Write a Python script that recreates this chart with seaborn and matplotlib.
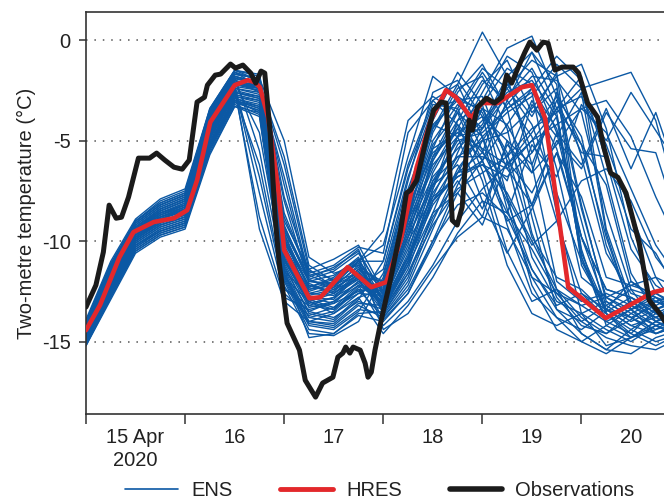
import matplotlib
matplotlib.use("Agg")
import matplotlib.pyplot as plt
import seaborn as sns
import pandas as pd
from matplotlib.lines import Line2D

# ---------------- data (hours since 15 Apr 2020 00 UTC, temperature in degC) -------------
obs_hours = [0.0, 2.4, 4.2, 5.6, 7.3, 8.6, 10.3, 12.7, 15.4, 17.1, 19.1, 21.3, 23.3, 25.0,
             26.9, 28.7, 29.4, 31.3, 32.6, 35.0, 36.2, 38.0, 39.9, 41.1, 42.4, 43.3, 44.6,
             45.8, 46.8, 48.7, 51.7, 53.1, 55.6, 57.3, 59.8, 61.0, 62.2, 62.9, 63.9, 64.7,
             66.4, 67.6, 68.3, 69.1, 70.0, 71.5, 73.7, 76.2, 77.6, 78.6, 80.1, 82.5, 84.2,
             86.0, 87.2, 87.9, 88.7, 89.9, 91.1, 92.1, 92.8, 93.6, 94.8, 97.0, 98.9, 100.7,
             101.9, 103.1, 104.6, 106.3, 107.5, 109.2, 110.7, 111.9, 113.6, 115.3, 118.0,
             119.3, 121.5, 123.9, 125.4, 127.1, 128.8, 130.8, 134.0, 136.4, 138.9, 141.6]
obs_temp = [-13.28, -12.19, -10.55, -8.21, -8.86, -8.81, -7.81, -5.87, -5.87, -5.62, -5.97,
            -6.32, -6.42, -5.97, -3.08, -2.84, -2.24, -1.74, -1.69, -1.19, -1.39, -1.24,
            -1.64, -2.14, -1.54, -1.64, -4.58, -8.81, -11.09, -14.08, -15.42, -16.92,
            -17.76, -17.06, -16.77, -15.77, -15.57, -15.27, -15.57, -15.27, -15.42, -16.07,
            -16.77, -16.52, -15.42, -13.93, -11.94, -9.45, -7.61, -7.46, -6.97, -4.83,
            -3.48, -3.08, -3.13, -5.62, -8.96, -9.20, -8.31, -5.62, -3.98, -4.48, -3.33,
            -2.89, -3.13, -2.84, -1.74, -2.14, -1.39, -0.60, -0.10, -0.50, -0.10, -0.15,
            -1.49, -1.34, -1.34, -1.64, -3.13, -3.83, -5.32, -6.62, -6.82, -7.61, -10.10,
            -12.94, -13.58, -14.43]

hres_hours = [0.0, 3.4, 8.1, 11.5, 16.4, 21.3, 24.5, 26.9, 30.1, 33.6, 36.0, 39.2, 40.9,
              42.1, 44.1, 46.5, 48.0, 54.1, 56.8, 63.4, 69.1, 72.7, 76.2, 80.1, 83.5, 87.2,
              89.6, 93.3, 95.8, 99.7, 105.6, 108.0, 111.2, 116.8, 125.9, 137.4, 141.6]
hres_temp = [-14.43, -13.18, -10.80, -9.55, -9.05, -8.86, -8.46, -6.97, -4.08, -2.99, -2.24,
             -1.99, -2.09, -2.34, -3.83, -7.31, -10.45, -12.84, -12.79, -11.29, -12.29,
             -12.04, -9.95, -6.32, -3.98, -2.49, -2.84, -3.88, -3.13, -3.13, -2.34, -2.24,
             -3.88, -12.29, -13.83, -12.54, -12.34]

# ENS members, 6-hourly: first block 0-66 h, second block 72-144 h
ens_hours = [0, 6, 12, 18, 24, 30, 36, 42, 48, 54, 60, 66,
             72, 78, 84, 90, 96, 102, 108, 114, 120, 126, 132, 138, 144]

ens_first = [
    [-14.0,-11.2,-9.0,-8.0,-7.5,-3.5,-1.6,-2.0,-9.2,-12.0,-12.2,-11.0],
    [-15.1,-12.7,-10.4,-9.6,-9.2,-5.4,-3.1,-3.5,-11.6,-13.8,-14.0,-12.9],
    [-14.6,-11.9,-9.8,-8.9,-8.4,-4.3,-2.2,-2.5,-10.4,-12.5,-12.1,-11.0],
    [-14.3,-11.5,-9.3,-8.4,-7.9,-3.8,-1.8,-5.5,-11.8,-13.0,-12.6,-11.8],
    [-14.8,-12.3,-10.1,-9.3,-8.9,-5.0,-2.9,-3.2,-10.9,-13.2,-13.4,-12.3],
    [-14.5,-11.8,-9.6,-8.7,-8.2,-4.1,-2.1,-2.2,-6.2,-11.4,-12.3,-11.7],
    [-13.9,-11.0,-8.9,-7.9,-7.4,-3.4,-1.5,-1.8,-8.6,-11.6,-11.2,-10.3],
    [-15.2,-12.9,-10.6,-9.8,-9.4,-5.7,-3.3,-3.8,-12.2,-14.6,-14.7,-14.0],
    [-14.4,-11.6,-9.5,-8.6,-8.1,-4.0,-2.0,-2.6,-10.1,-12.2,-12.5,-11.4],
    [-14.7,-12.1,-9.9,-9.1,-8.6,-4.6,-2.5,-8.8,-12.8,-13.4,-13.1,-12.5],
    [-14.2,-11.4,-9.2,-8.3,-7.8,-3.7,-1.7,-1.9,-5.0,-10.8,-11.6,-11.2],
    [-14.9,-12.4,-10.2,-9.4,-9.0,-5.1,-2.9,-3.3,-11.3,-13.5,-13.0,-12.0],
    [-14.5,-11.7,-9.6,-8.8,-8.3,-4.2,-2.2,-2.4,-9.8,-12.8,-12.9,-11.7],
    [-14.1,-11.3,-9.1,-8.2,-7.7,-3.6,-1.6,-2.3,-9.5,-11.9,-11.5,-10.6],
    [-15.0,-12.6,-10.3,-9.5,-9.1,-5.3,-3.0,-3.4,-11.9,-14.2,-14.4,-13.5],
    [-14.6,-12.0,-9.7,-8.9,-8.5,-4.4,-2.3,-6.8,-12.4,-13.2,-12.8,-12.1],
    [-14.3,-11.5,-9.4,-8.5,-8.0,-3.9,-1.9,-2.1,-7.2,-11.9,-12.4,-11.5],
    [-14.8,-12.2,-10.0,-9.2,-8.8,-4.8,-2.7,-3.0,-11.0,-13.0,-13.6,-12.6],
    [-14.4,-11.6,-9.4,-8.6,-8.2,-4.1,-2.0,-2.4,-10.0,-12.3,-11.8,-10.8],
    [-14.7,-12.1,-9.9,-9.0,-8.7,-4.6,-2.6,-2.9,-10.7,-12.9,-13.3,-12.2],
    [-14.0,-11.1,-9.0,-8.1,-7.6,-3.5,-1.5,-2.0,-9.0,-11.4,-10.9,-10.2],
    [-14.9,-12.5,-10.2,-9.4,-9.0,-5.2,-3.0,-3.6,-11.7,-14.0,-14.2,-13.2],
    [-14.5,-11.8,-9.7,-8.8,-8.4,-4.3,-2.3,-7.6,-12.6,-13.7,-13.3,-12.6],
    [-14.2,-11.4,-9.3,-8.4,-7.9,-3.8,-1.8,-2.2,-9.6,-12.4,-12.0,-11.1],
    [-14.6,-11.9,-9.8,-9.0,-8.6,-4.5,-2.4,-2.7,-10.5,-12.6,-12.7,-11.9],
    [-15.1,-12.8,-10.5,-9.7,-9.3,-5.5,-3.2,-3.7,-12.0,-14.4,-14.6,-13.7],
    [-14.3,-11.6,-9.4,-8.6,-8.1,-4.0,-2.0,-2.3,-8.0,-12.1,-12.6,-11.8],
    [-14.7,-12.0,-9.9,-9.1,-8.7,-4.7,-2.6,-2.8,-10.8,-13.1,-12.8,-11.6],
    [-14.4,-11.7,-9.5,-8.7,-8.2,-4.1,-2.1,-4.6,-11.5,-12.7,-12.4,-11.9],
    [-14.8,-12.3,-10.1,-9.3,-8.9,-4.9,-2.8,-3.1,-11.2,-13.6,-13.9,-12.8],
    [-14.1,-11.2,-9.1,-8.2,-7.7,-3.6,-1.7,-1.9,-8.8,-11.7,-11.4,-10.4],
    [-14.5,-11.8,-9.6,-8.8,-8.4,-4.3,-2.3,-2.5,-10.3,-12.4,-12.2,-11.3],
    [-14.9,-12.4,-10.2,-9.5,-9.1,-5.1,-3.0,-3.3,-11.4,-13.8,-13.5,-12.4],
    [-14.3,-11.5,-9.3,-8.5,-8.0,-3.9,-1.9,-2.2,-5.8,-11.2,-12.0,-11.6],
    [-14.6,-12.0,-9.8,-8.9,-8.5,-4.4,-2.4,-2.6,-10.6,-12.8,-13.1,-12.0],
    [-14.2,-11.3,-9.2,-8.3,-7.8,-3.7,-1.8,-2.1,-9.4,-12.0,-11.7,-10.9],
    [-14.7,-12.2,-10.0,-9.2,-8.8,-4.8,-2.7,-6.2,-12.3,-13.5,-13.8,-13.0],
    [-14.4,-11.6,-9.5,-8.7,-8.3,-4.2,-2.1,-2.4,-10.2,-12.6,-12.3,-11.2],
    [-15.0,-12.6,-10.4,-9.6,-9.2,-5.4,-3.1,-3.5,-11.8,-14.1,-14.3,-13.4],
    [-14.5,-11.7,-9.6,-8.8,-8.3,-4.2,-2.2,-2.4,-9.9,-12.2,-12.6,-11.6],
    [-14.1,-11.3,-9.1,-8.2,-7.7,-3.6,-1.6,-2.0,-9.3,-11.8,-11.3,-10.5],
    [-14.8,-12.3,-10.0,-9.2,-8.8,-4.9,-2.8,-3.0,-11.1,-13.3,-13.0,-12.2],
    [-14.4,-11.7,-9.5,-8.6,-8.2,-4.1,-2.1,-2.3,-6.8,-11.7,-12.2,-11.6],
    [-14.6,-11.9,-9.8,-9.0,-8.6,-4.5,-2.5,-2.8,-10.6,-13.0,-13.4,-12.4],
    [-14.2,-11.4,-9.3,-8.4,-7.9,-3.8,-1.8,-2.1,-9.7,-12.3,-11.9,-10.9],
    [-14.9,-12.5,-10.3,-9.5,-9.1,-5.2,-3.0,-3.4,-11.6,-14.0,-14.1,-13.1],
    [-14.5,-11.8,-9.7,-8.9,-8.4,-4.3,-2.3,-9.4,-13.0,-14.0,-13.6,-12.8],
    [-14.3,-11.5,-9.4,-8.5,-8.0,-3.9,-1.9,-2.2,-9.9,-12.0,-12.1,-11.0],
    [-14.7,-12.1,-9.9,-9.1,-8.7,-4.7,-2.6,-2.9,-10.9,-12.9,-12.5,-11.4],
    [-14.0,-11.2,-9.0,-8.1,-7.6,-3.4,-1.5,-1.7,-7.8,-11.5,-11.9,-11.0],
    [-15.2,-12.8,-10.5,-9.7,-9.3,-5.6,-3.3,-3.6,-11.4,-14.8,-14.6,-13.6],
]

ens_second = [
    [-9.5,-4.0,-2.8,-3.6,-6.5,-10.5,-13.0,-12.4,-13.8,-14.6,-13.9,-13.0,-13.4],
    [-11.0,-6.2,-3.0,-2.2,-4.8,-9.2,-12.6,-13.8,-14.4,-13.5,-12.8,-13.6,-14.0],
    [-10.2,-5.8,-1.8,-2.8,-5.5,-8.0,-11.4,-13.2,-12.6,-13.4,-14.2,-13.8,-12.9],
    [-12.0,-7.4,-4.0,-1.6,-3.2,-7.8,-12.2,-14.4,-15.0,-14.2,-13.4,-12.8,-13.2],
    [-11.4,-6.8,-3.4,-3.0,-2.8,-6.0,-10.8,-13.0,-13.6,-15.2,-14.8,-14.0,-13.6],
    [-12.6,-8.8,-4.6,-2.4,-1.8,-4.4,-9.6,-12.8,-14.2,-14.6,-13.6,-13.0,-12.6],
    [-10.6,-4.6,-3.0,-4.2,-7.0,-11.2,-13.6,-14.2,-13.6,-13.0,-13.8,-14.4,-14.0],
    [-11.8,-7.0,-2.6,-2.0,-3.8,-8.4,-11.8,-12.6,-13.2,-12.8,-13.4,-12.6,-12.2],
    [-12.8,-9.4,-5.4,-2.6,-1.2,-3.4,-2.6,-8.6,-13.6,-14.4,-15.0,-14.2,-13.8],
    [-12.2,-8.0,-4.4,-2.2,0.4,-1.8,-6.2,-12.0,-13.0,-12.6,-13.2,-14.0,-14.6],
    [-13.0,-10.2,-6.0,-3.6,-1.6,-3.4,-8.8,-13.4,-14.0,-13.2,-12.4,-12.8,-13.5],
    [-12.4,-8.6,-5.0,-3.2,-4.4,-2.0,-5.6,-3.8,-10.8,-14.0,-14.6,-13.4,-12.8],
    [-13.4,-11.2,-7.4,-4.0,-2.0,-3.0,-4.8,-9.0,-12.6,-13.8,-13.0,-13.8,-14.4],
    [-12.6,-9.0,-4.2,-3.0,-3.4,-5.6,-9.8,-11.8,-12.4,-13.6,-14.4,-15.0,-14.6],
    [-11.6,-7.6,-4.2,-4.8,-8.0,-10.6,-8.4,-5.6,-7.8,-11.8,-12.2,-11.8,-12.4],
    [-13.2,-10.6,-6.6,-4.4,-2.2,-1.0,-3.6,-2.4,-8.2,-13.0,-13.8,-13.2,-12.6],
    [-12.9,-9.8,-5.8,-3.4,-1.4,-2.4,-4.2,-7.6,-11.0,-13.4,-14.2,-14.6,-14.0],
    [-12.0,-8.2,-5.6,-4.6,-3.8,-5.0,-8.2,-12.4,-14.6,-15.4,-14.4,-13.6,-13.8],
    [-13.6,-11.8,-8.6,-5.6,-3.0,-0.8,-1.6,-4.6,-9.8,-13.2,-14.0,-13.4,-13.0],
    [-13.0,-10.4,-7.2,-4.8,-2.6,-0.4,0.2,-2.8,-8.4,-12.8,-13.6,-14.2,-14.8],
    [-12.5,-9.2,-6.4,-4.2,-5.6,-2.2,-3.8,-1.6,-10.6,-13.4,-13.8,-14.6,-14.2],
    [-13.8,-12.2,-9.4,-6.6,-4.4,-2.4,-1.0,-1.8,-5.8,-10.6,-12.6,-13.0,-13.6],
    [-12.7,-9.6,-6.0,-4.0,-3.2,-1.4,-2.2,-6.4,-11.8,-12.8,-12.2,-12.6,-13.2],
    [-13.3,-11.0,-7.8,-5.2,-4.0,-2.6,-2.0,-3.8,-10.8,-13.6,-14.6,-15.2,-14.6],
    [-12.3,-8.8,-5.8,-4.4,-6.0,-3.0,-0.6,-3.4,-1.8,-9.4,-13.0,-13.8,-13.4],
    [-14.0,-12.6,-10.0,-7.2,-5.0,-3.2,-1.8,-2.0,-3.6,-8.6,-12.4,-14.0,-14.4],
    [-13.1,-10.8,-7.0,-5.0,-4.6,-3.4,-2.4,-4.4,-9.0,-13.6,-14.8,-14.0,-13.2],
    [-12.8,-9.4,-6.8,-5.4,-4.2,-1.8,-0.6,-2.2,-11.2,-13.4,-12.0,-12.8,-13.8],
    [-13.5,-11.4,-8.0,-6.0,-3.4,-5.8,-3.0,-5.4,-9.8,-12.4,-12.8,-13.4,-12.8],
    [-12.4,-9.0,-6.2,-4.8,-4.4,-2.8,-1.4,-3.6,-10.4,-14.2,-14.8,-14.4,-13.6],
    [-13.7,-12.0,-9.0,-6.4,-4.8,-3.6,-2.8,-1.2,-2.4,-6.8,-11.6,-13.6,-14.0],
    [-13.0,-10.8,-7.6,-5.8,-5.0,-4.6,-3.4,-1.8,-1.2,-4.4,-9.8,-12.6,-13.4],
    [-12.6,-9.8,-7.2,-6.2,-8.4,-5.2,-6.6,-2.6,-5.2,-7.2,-12.0,-13.0,-12.6],
    [-13.9,-12.6,-10.2,-7.6,-6.0,-4.2,-2.4,-0.8,-2.0,-6.0,-10.4,-12.2,-13.0],
    [-13.2,-11.0,-8.2,-6.6,-5.6,-7.0,-3.2,-4.8,-2.6,-9.6,-13.4,-14.6,-14.2],
    [-12.9,-10.0,-7.8,-6.8,-6.2,-6.8,-5.6,-3.4,-2.8,-5.2,-8.6,-11.8,-13.6],
    [-13.4,-11.6,-8.8,-7.0,-8.8,-5.0,-6.2,-3.0,-5.6,-5.8,-9.4,-10.6,-12.8],
    [-12.2,-8.4,-5.4,-4.6,-5.4,-6.2,-4.6,-2.8,-4.8,-10.2,-13.2,-13.8,-13.2],
    [-13.6,-11.6,-9.2,-7.4,-6.6,-5.8,-4.4,-3.6,-2.4,-2.0,-1.6,-4.0,-8.6],
    [-13.1,-10.8,-8.0,-6.8,-6.0,-8.6,-5.2,-6.8,-3.2,-5.0,-2.6,-4.5,-6.4],
    [-12.7,-9.8,-7.0,-5.8,-5.8,-6.4,-8.2,-4.6,-6.2,-3.4,-6.4,-3.6,-7.2],
    [-14.2,-13.0,-11.2,-9.0,-7.4,-6.2,-5.0,-4.2,-3.4,-3.0,-4.8,-7.8,-10.4],
    [-13.3,-11.2,-8.6,-7.6,-9.2,-6.0,-7.6,-5.0,-6.4,-3.6,-5.4,-5.6,-9.4],
    [-13.8,-12.4,-10.0,-8.2,-7.6,-8.8,-11.4,-13.4,-14.6,-15.4,-15.6,-14.8,-14.4],
    [-14.4,-13.6,-11.8,-9.6,-8.0,-8.6,-10.4,-12.6,-14.0,-14.8,-15.2,-15.4,-14.8],
    [-13.2,-10.8,-8.0,-6.6,-6.2,-7.6,-10.0,-12.4,-13.2,-14.0,-13.4,-13.0,-13.6],
    [-14.6,-13.2,-11.4,-9.8,-8.8,-9.4,-11.8,-13.8,-15.0,-15.6,-14.8,-14.2,-14.6],
    [-11.0,-6.4,-3.2,-3.4,-6.0,-9.0,-8.2,-5.6,-9.8,-12.4,-12.8,-13.6,-13.0],
    [-12.0,-7.8,-4.4,-2.8,-3.6,-6.4,-5.0,-3.4,-5.2,-9.8,-13.4,-14.2,-13.8],
    [-12.5,-9.0,-5.2,-3.6,-4.8,-7.8,-10.2,-9.0,-7.0,-6.4,-8.0,-10.8,-12.4],
    [-13.5,-11.0,-7.4,-4.8,-3.4,-4.2,-6.6,-5.2,-3.4,-4.6,-7.4,-10.2,-12.0],
]

day_tick_hours = [0, 24, 48, 72, 96, 120]
day_label_hours = [12, 36, 60, 84, 108, 132]
day_labels = ["15 Apr\n2020", "16", "17", "18", "19", "20"]
y_ticks = [0, -5, -10, -15]
y_tick_labels = ["0", "-5", "-10", "-15"]

# ---------------- styling -------------
ENS_COLOR = "#0b58a4"
HRES_COLOR = "#e3282b"
OBS_COLOR = "#1b1b1b"
FONT = ["Liberation Sans", "DejaVu Sans"]

sns.set_theme(style="white")
plt.rcParams["font.family"] = FONT
plt.rcParams["font.size"] = 14.5

rows = []
for m, (a, b) in enumerate(zip(ens_first, ens_second)):
    for h, v in zip(ens_hours, a + b):
        rows.append((m, h, v))
ens_df = pd.DataFrame(rows, columns=["member", "hours", "temp"])
hres_df = pd.DataFrame({"hours": hres_hours, "temp": hres_temp})
obs_df = pd.DataFrame({"hours": obs_hours, "temp": obs_temp})

fig = plt.figure(figsize=(6.64, 5.03), dpi=100)
ax = fig.add_axes([86 / 664, 1 - 414 / 503, 1 - 86 / 664 + 0.01, (414 - 12) / 503])

for yv in y_ticks:
    ax.axhline(yv, color="#555555", lw=1.1, ls=(0, (1, 4.5)), zorder=0.5)

sns.lineplot(data=ens_df, x="hours", y="temp", units="member", estimator=None,
             color=ENS_COLOR, lw=1.0, ax=ax, legend=False, zorder=2, sort=False)
sns.lineplot(data=hres_df, x="hours", y="temp", color=HRES_COLOR, lw=3.3,
             ax=ax, legend=False, zorder=3, sort=False)
sns.lineplot(data=obs_df, x="hours", y="temp", color=OBS_COLOR, lw=3.6,
             ax=ax, legend=False, zorder=4, sort=False)

ax.set_xlim(0, 141.6)
ax.set_ylim(-18.6, 1.4)

ax.set_xticks(day_tick_hours)
ax.set_xticklabels([""] * len(day_tick_hours))
ax.set_xticks(day_label_hours, minor=True)
ax.set_xticklabels(day_labels, minor=True, fontsize=14.5, linespacing=1.25)
ax.tick_params(axis="x", which="major", direction="out", length=7, width=1.1,
               color="#333333", bottom=True)
ax.tick_params(axis="x", which="minor", length=0, pad=10, labelcolor="#222222")

ax.set_yticks(y_ticks)
ax.set_yticklabels(y_tick_labels, fontsize=14.5)
ax.tick_params(axis="y", direction="out", length=5, width=1.1, color="#333333",
               left=True, pad=6, labelcolor="#222222")

ax.set_xlabel("")
ax.set_ylabel("Two-metre temperature (°C)", fontsize=14.5, color="#222222", labelpad=4)

for side in ["left", "bottom", "top"]:
    ax.spines[side].set_visible(True)
    ax.spines[side].set_color("#333333")
    ax.spines[side].set_linewidth(1.2)
ax.spines["right"].set_visible(False)
ax.grid(False)

handles = [
    Line2D([], [], color=ENS_COLOR, lw=1.2),
    Line2D([], [], color=HRES_COLOR, lw=3.5),
    Line2D([], [], color=OBS_COLOR, lw=4.0),
]
fig.legend(handles, ["ENS", "HRES", "Observations"], loc="center",
           bbox_to_anchor=(380 / 664, 1 - 491 / 503), ncol=3, frameon=False,
           fontsize=14.5, handlelength=2.6, handletextpad=0.65, columnspacing=2.4,
           labelcolor="#222222")

fig.savefig("out.png", dpi=100)
